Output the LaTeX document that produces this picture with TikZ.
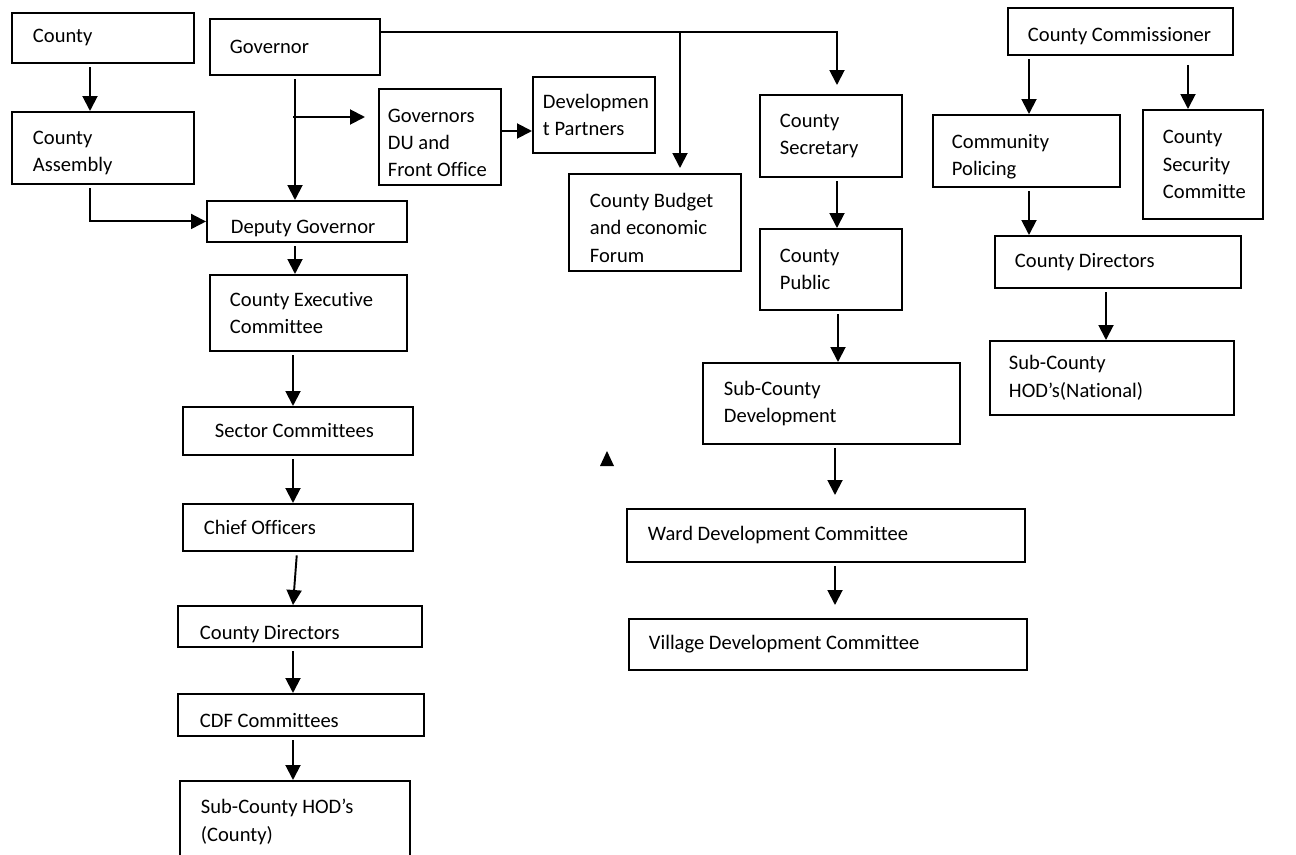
\documentclass[tikz,border=0pt]{standalone}
\usepackage{fontspec}
\setmainfont{Carlito}[Ligatures=NoCommon]
\usetikzlibrary{arrows.meta}
\hyphenpenalty=10000
\exhyphenpenalty=10000

\begin{document}
\begin{tikzpicture}[x=0.02cm, y=-0.02cm,
    box/.style={draw, line width=1.1pt, anchor=north west, align=flush left, inner sep=0pt,
        font=\fontsize{11.7pt}{15.6pt}\selectfont},
    wh/.style n args={3}{minimum width=#1*0.02cm, minimum height=#2*0.02cm, text width=(#1-2*#3)*0.02cm},
    low/.style={execute at begin node={\rule{0pt}{\dimexpr\ht\strutbox+0.04cm*#1\relax}}},
    arr/.style={-{Triangle[width=3mm,length=3mm]}, line width=1.1pt, shorten <=0.07cm}]
    \useasboundingbox (0,0) rectangle (1296,855);
    \clip (0,0) rectangle (1296,855);
    % left column
    \node[box, wh={182}{50}{21}] (county) at (11,12) {County};
    \node[box, wh={182}{72}{21}, low=2] (assembly) at (11,111) {County\\Assembly};
    \node[box, wh={170}{56}{20}] (gov) at (209,18) {Governor};
    \node[box, wh={122}{96}{9}, low=3] (du) at (378,88) {Governors\\DU and\\Front Office};
    \node[box, wh={122}{76}{10}] (dp) at (532,76) {Developmen\\t Partners};
    \node[box, wh={200}{41}{24}, low=4] (deputy) at (206,200) {Deputy Governor};
    \node[box, wh={197}{76}{20}] (exec) at (209,274) {County Executive\\Committee};
    \node[box, wh={230}{48}{32}] (sector) at (182,406) {Sector Committees};
    \node[box, wh={230}{47}{21}] (chief) at (182,503) {Chief Officers};
    \node[box, wh={244}{41}{22}, low=5] (ldirectors) at (177,605) {County Directors};
    \node[box, wh={246}{42}{22}, low=3] (cdf) at (177,693) {CDF Committees};
    \node[box, wh={230}{82}{21}] (hodcounty) at (179,780) {Sub-County HOD’s\\(County)};
    % middle column
    \node[box, wh={172}{97}{21}, low=3] (budget) at (568,173) {County Budget\\and economic\\Forum};
    \node[box, wh={142}{82}{20}] (secretary) at (759,94) {County\\Secretary};
    \node[box, wh={142}{81}{20}] (public) at (759,228) {County\\Public};
    \node[box, wh={257}{81}{21}] (scdev) at (702,362) {Sub-County\\Development};
    \node[box, wh={398}{53}{21}] (ward) at (626,508) {Ward Development Committee};
    \node[box, wh={398}{51}{20}] (village) at (628,618) {Village Development Committee};
    % right column
    \node[box, wh={225}{47}{20}, low=2] (commissioner) at (1007,7) {County Commissioner};
    \node[box, wh={187}{72}{19}, low=3] (policing) at (932,114) {Community\\Policing};
    \node[box, wh={120}{109}{20}] (security) at (1142,109) {County\\Security\\Committe};
    \node[box, wh={246}{52}{20}] (rdirectors) at (994,235) {County Directors};
    \node[box, wh={244}{74}{19}] (hodnat) at (989,340) {Sub-County\\HOD’s(National)};

    \coordinate (br) at (293,117);
    \coordinate (tj) at (680,32);
    \draw[arr] (county.south -| 90,0) -- (assembly.north -| 90,0);
    \draw[arr] (assembly.south -| 90,0) |- (deputy.west);
    \draw[arr] (gov.south -| 295,0) -- (deputy.north -| 295,0);
    \draw[arr, shorten >=0.26cm, shorten <=0pt] (br) -- (du.west |- br);
    \draw[arr, shorten <=0pt] (du.east |- 0,131) -- (dp.west |- 0,131);
    \draw[arr, shorten >=0.18cm, shorten <=0pt] (gov.east |- 0,32) -| (secretary.north -| 837,0);
    \draw[arr, shorten >=0.1cm, shorten <=0pt] (tj) -- (budget.north -| tj);
    \draw[arr] (deputy.south -| 295,0) -- (exec.north -| 295,0);
    \draw[arr] (exec.south -| 293,0) -- (sector.north -| 293,0);
    \draw[arr] (sector.south -| 293,0) -- (chief.north -| 293,0);
    \draw[arr] (chief.south -| 297,0) -- (ldirectors.north -| 293,0);
    \draw[arr] (ldirectors.south -| 293,0) -- (cdf.north -| 293,0);
    \draw[arr] (cdf.south -| 293,0) -- (hodcounty.north -| 293,0);
    \draw[arr] (secretary.south -| 837,0) -- (public.north -| 837,0);
    \draw[arr] (public.south -| 838,0) -- (scdev.north -| 838,0);
    \draw[arr, shorten >=0.26cm] (scdev.south -| 835,0) -- (ward.north -| 835,0);
    \draw[arr, shorten >=0.26cm] (ward.south -| 835,0) -- (village.north -| 835,0);
    \draw[arr] (commissioner.south -| 1029,0) -- (policing.north -| 1029,0);
    \draw[arr, shorten <=0.18cm] (commissioner.south -| 1188,0) -- (security.north -| 1188,0);
    \draw[arr] (policing.south -| 1029,0) -- (rdirectors.north -| 1029,0);
    \draw[arr] (rdirectors.south -| 1106,0) -- (hodnat.north -| 1106,0);
    \fill (600,466) -- (607,451) -- (614,466) -- cycle;
\end{tikzpicture}
\end{document}
